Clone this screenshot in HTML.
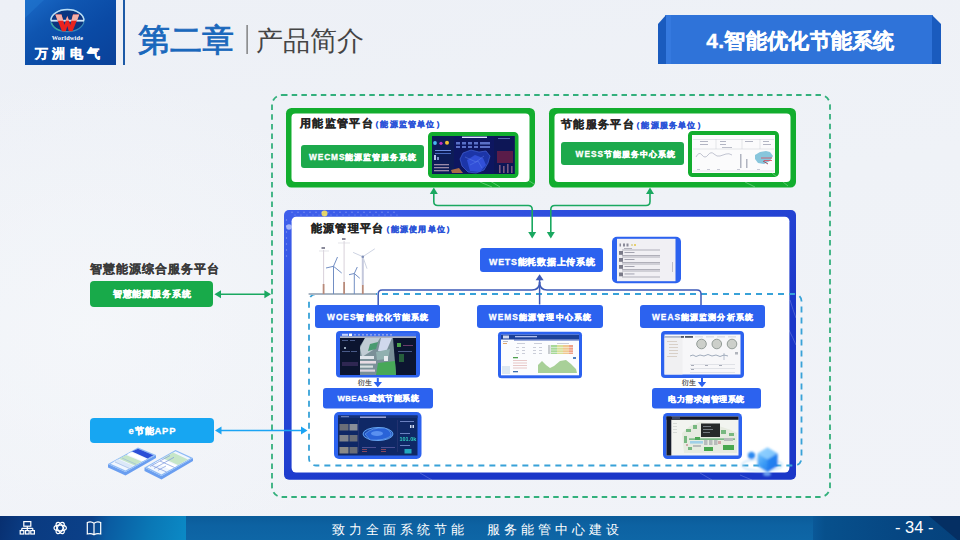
<!DOCTYPE html>
<html><head><meta charset="utf-8">
<style>
*{margin:0;padding:0;box-sizing:border-box}
html,body{width:960px;height:540px;overflow:hidden}
body{position:relative;background:radial-gradient(ellipse 300px 260px at 90px 330px,rgba(246,248,251,0.7),rgba(246,248,251,0)),linear-gradient(170deg,#edf0f6 0%,#eff2f7 45%,#f1f3f8 100%);font-family:"Liberation Sans",sans-serif}
.a{position:absolute;white-space:nowrap}
svg.full{position:absolute;left:0;top:0}
.ch{left:138px;top:19.8px;font-size:31.5px;line-height:40px;color:#1a68bc;font-weight:normal;-webkit-text-stroke:0.9px #1a68bc}
.sub{left:256px;top:23.3px;font-size:27px;line-height:36px;color:#454545}
.tabt{left:659px;top:16px;width:283px;height:49px;color:#fff;font-weight:bold;font-size:21px;text-align:center;line-height:49px;-webkit-text-stroke:0.4px #fff;letter-spacing:0.3px}
.ttl{font-weight:bold;font-size:11.2px;line-height:14px;color:#262626;-webkit-text-stroke:0.25px #262626;letter-spacing:1.35px}
.ttl span{color:#2d55d8;font-size:7.8px;-webkit-text-stroke:0.3px #2d55d8;margin-left:-3px;letter-spacing:1.2px}
.btn{color:#fff;font-weight:bold;font-size:8.3px;text-align:center;letter-spacing:0.75px;-webkit-text-stroke:0.3px #fff;padding-top:0.7px;text-indent:0.75px}
.foot{left:0;top:516px;width:960px;height:24px;background:linear-gradient(180deg,#0b5c9a 0%,#0d62a2 40%,#0e66a6 100%)}
.footl{left:0;top:516px;width:186px;height:24px;background:linear-gradient(105deg,#082f70 0%,#0a3a80 12%,#0b4088 48%,#0a5ca2 58%,#0a78b6 80%,#0b8ac6 100%)}
.footr{left:813px;top:516px;width:147px;height:24px;background:linear-gradient(90deg,#0a5898 0%,#07508c 8%,#064682 60%,#05427c 100%)}
.ftxt{left:332px;top:518px;height:24px;line-height:24px;color:#fff;font-size:13px;letter-spacing:4px}
.pg{left:895px;top:515px;height:24px;line-height:24px;color:#fff;font-size:16.5px}
.yan{font-size:7px;color:#3a3a3a;line-height:8px;-webkit-text-stroke:0.15px #3a3a3a}
</style></head><body>
<svg class="full" width="960" height="540" viewBox="0 0 960 540">
<defs>
 <linearGradient id="logog" x1="0" y1="0" x2="1" y2="1">
  <stop offset="0" stop-color="#1a6ac8"/><stop offset="0.3" stop-color="#0f55b0"/><stop offset="0.6" stop-color="#0a4aa5"/><stop offset="1" stop-color="#0a4199"/>
 </linearGradient>
 <linearGradient id="bluebd" gradientUnits="userSpaceOnUse" x1="284" y1="210" x2="400" y2="480">
  <stop offset="0" stop-color="#4060ec"/><stop offset="0.3" stop-color="#3051e0"/><stop offset="0.65" stop-color="#2444d4"/><stop offset="1" stop-color="#1a36c8"/>
 </linearGradient>
 <linearGradient id="cubeg" x1="0" y1="0" x2="1" y2="1">
  <stop offset="0" stop-color="#8ad0ff"/><stop offset="0.5" stop-color="#3a9af5"/><stop offset="1" stop-color="#1d6ae8"/>
 </linearGradient>
 <filter id="glow" x="-30%" y="-30%" width="160%" height="160%"><feGaussianBlur stdDeviation="0.9"/></filter>
 <filter id="soft" x="-5%" y="-5%" width="110%" height="110%"><feGaussianBlur stdDeviation="0.35"/></filter>
</defs>

<!-- ===== header ===== -->
<rect x="25" y="0" width="91" height="65" fill="url(#logog)"/>
<polygon points="25,0 44,0 25,18" fill="#2277d0" opacity="0.5"/>
<rect x="123" y="0" width="2" height="65" fill="#1d5aa6"/>
<rect x="246.5" y="25" width="1.2" height="29" fill="#666"/>
<!-- logo mark -->
<ellipse cx="67.4" cy="20.6" rx="16.6" ry="11" fill="#0b3580" stroke="#3a8ab8" stroke-width="1.2"/><path d="M50.8,20.6 A16.6,11 0 0 1 84,20.6" fill="none" stroke="#b8dcf6" stroke-width="1.5"/><path d="M51.5,23 A16.6,11 0 0 0 60,30.5" fill="none" stroke="#3aa8a0" stroke-width="1.3"/>
<rect x="51" y="19.8" width="33" height="1.8" fill="#cfe6f8"/>
<path d="M55.3,14.6 H61.5 L64.5,25 L67.3,16 L70.3,25 L73,14.6 H79.3 L72.5,31.3 H68.8 L67.3,26 L65.8,31.3 H62 Z" fill="#e8231e"/>
<path d="M55.3,14.6 H61.5 L63.3,20.8 H57.6 Z M65.5,20.8 L67.3,16 L69.1,20.8 Z M71.3,20.8 L73,14.6 H79.3 L77,20.8 Z" fill="#f4b0a8"/>
<text x="67.5" y="39.8" font-family="Liberation Serif" font-weight="bold" font-size="6.3" fill="#fff" text-anchor="middle" letter-spacing="0.2">Worldwide</text>
<!-- tab -->
<rect x="665" y="15" width="268" height="49" rx="1" fill="#2f73d9"/>
<polygon points="658,24 666,15 666,64 658,64" fill="#1a5bbe"/>
<polygon points="932,15 941,24 941,64 932,64" fill="#1a5bbe"/>
<rect x="666" y="15" width="5" height="49" fill="#3a7de2" opacity="0.6"/>

<!-- ===== main diagram ===== -->
<rect x="272" y="95" width="558" height="402" rx="10" fill="none" stroke="#33b07c" stroke-width="1.8" stroke-dasharray="5.5 4.2"/>

<!-- green platform boxes -->
<rect x="286" y="108" width="249" height="79.5" rx="5.5" fill="#12ad2e"/><rect x="291.5" y="113.5" width="238" height="68.5" rx="4" fill="#fff"/>
<rect x="549" y="108" width="247" height="79.5" rx="5.5" fill="#12ad2e"/><rect x="554.5" y="113.5" width="236" height="68.5" rx="4" fill="#fff"/>
<rect x="301" y="145" width="123" height="23" rx="3" fill="#1ca94c"/>
<rect x="561" y="142" width="123" height="23" rx="3" fill="#1ca94c"/>

<!-- WECMS thumb -->
<rect x="430" y="134" width="86.5" height="42" rx="2.5" fill="#0b1450" stroke="#12ad2e" stroke-width="4"/>
<g filter="url(#soft)">
<rect x="432" y="136" width="82.5" height="38" fill="#0c1860"/>
<rect x="432" y="136" width="22" height="38" fill="#0d1a58"/>
<rect x="494" y="136" width="20.5" height="38" fill="#0e1656"/>
<rect x="462" y="136.6" width="25" height="1.4" fill="#dfe4ff"/>
<circle cx="435" cy="143" r="1.9" fill="#4ab8f0"/><circle cx="441" cy="143.3" r="1.6" fill="#c030c0"/><circle cx="447" cy="142.8" r="2" fill="#f0c030"/>
<rect x="435" y="150" width="16" height="1" fill="#6a8ae0"/>
<rect x="435" y="153" width="16" height="1" fill="#4a6ac0"/>
<rect x="434" y="155" width="2" height="5" fill="#b8c0e8"/><rect x="437" y="157" width="2" height="3" fill="#8090d0"/>
<g fill="#9a8aa8"><rect x="434" y="164" width="15" height="1.3"/><rect x="434" y="167" width="15" height="1.3"/><rect x="434" y="170" width="15" height="1.3"/></g>
<g fill="#5a70c8"><rect x="456" y="142" width="4" height="2.5"/><rect x="462" y="142" width="4" height="2.5"/><rect x="468" y="142" width="4" height="2.5"/><rect x="474" y="142" width="4" height="2.5"/><rect x="480" y="142" width="10" height="2.5"/>
<rect x="456" y="146" width="4" height="2"/><rect x="462" y="146" width="4" height="2"/><rect x="468" y="146" width="4" height="2"/><rect x="474" y="146" width="4" height="2"/><rect x="480" y="146" width="10" height="2"/></g>
<path d="M463,153 L471,150 L479,152 L486,151 L490,156 L488,163 L484,170 L476,173 L468,172 L462,166 L460,159 Z" fill="#1e36a8" stroke="#4a6ae0" stroke-width="0.6"/>
<path d="M467,160 L475,155 L483,158 L486,165 L480,172 L470,171 Z" fill="#3050d8"/><path d="M465,157 L476,162 L484,156 M470,165 L478,161 L482,168" stroke="#6a88f0" stroke-width="0.4" fill="none"/>
<path d="M451,170 L459,168 L463,173 L452,173 Z" fill="#d08040" opacity="0.8"/>
<rect x="497" y="151" width="16" height="12" fill="#5a1a48"/>
<g fill="#7a5a80"><rect x="499" y="165" width="1.6" height="8"/><rect x="503" y="166" width="1.6" height="7"/><rect x="507" y="164" width="1.6" height="9"/><rect x="511" y="166" width="1.6" height="7"/></g>
<rect x="498" y="138" width="12" height="1" fill="#5a6ab0"/>
</g>
<!-- WESS thumb -->
<rect x="690" y="133" width="87" height="42" rx="2.5" fill="#fdfdfd" stroke="#12ad2e" stroke-width="4"/>
<g filter="url(#soft)">
<rect x="692" y="135" width="83" height="38" fill="#fbfbfc"/>
<g stroke="#c8ccd6" stroke-width="0.5"><path d="M693,139.5 H774 M693,149 H774 M693,171 H774 M742,139 V149 M716,139 V149 M760,139 V149"/></g>
<g fill="#a0a4b4"><rect x="700" y="141" width="8" height="0.8"/><rect x="700" y="144" width="8" height="0.8"/><rect x="720" y="141" width="6" height="0.8"/><rect x="720" y="144" width="6" height="0.8"/><rect x="745" y="141" width="8" height="0.8"/><rect x="763" y="141" width="6" height="0.8"/><rect x="763" y="144" width="8" height="0.8"/><rect x="722" y="147" width="10" height="0.7"/></g>
<path d="M696,157 Q699,151 702,155 T708,155 T714,154 T720,156 T726,154 T732,155" fill="none" stroke="#9aa0b4" stroke-width="0.6"/>
<g fill="#b0b4c0"><rect x="740" y="154" width="1.5" height="14"/><rect x="746" y="159" width="1.5" height="9"/></g>
<path d="M755,155 L760,152 L766,151 L770,152 L773,156 L770,161 L764,164 L758,163 L755,159 Z" fill="#88c6dc"/>
<path d="M761,158 L772,158 M764,160.5 H772" stroke="#e04858" stroke-width="0.8"/>
<path d="M763,161 L768,164" stroke="#a05060" stroke-width="1"/>
<g fill="#b8bcc8"><rect x="697" y="169" width="3" height="0.8"/><rect x="707" y="169" width="3" height="0.8"/><rect x="717" y="169" width="3" height="0.8"/><rect x="737" y="169" width="3" height="0.8"/><rect x="757" y="169" width="3" height="0.8"/></g>
</g>
<!-- blue platform box -->
<rect x="284" y="210" width="512" height="269.8" rx="5" fill="url(#bluebd)"/><rect x="291.6" y="216.7" width="497.8" height="255.8" rx="4.5" fill="#fff"/>
<circle cx="289" cy="227" r="2.8" fill="#cfd8ff" opacity="0.7"/>
<circle cx="324.5" cy="213.5" r="3" fill="#f5e05a" opacity="0.9"/>
<g fill="#ffffff" opacity="0.35">
<circle cx="292" cy="212.3" r="0.7"/>
<circle cx="295" cy="215" r="0.6"/>
<circle cx="298" cy="212.3" r="0.7"/>
<circle cx="301" cy="215" r="0.6"/>
<circle cx="304" cy="212.3" r="0.7"/>
<circle cx="307" cy="215" r="0.6"/>
<circle cx="310" cy="212.3" r="0.7"/>
<circle cx="313" cy="215" r="0.6"/>
<circle cx="316" cy="212.3" r="0.7"/>
<circle cx="319" cy="215" r="0.6"/>
<circle cx="322" cy="212.3" r="0.7"/>
<circle cx="325" cy="215" r="0.6"/>
<circle cx="328" cy="212.3" r="0.7"/>
<circle cx="331" cy="215" r="0.6"/>
<circle cx="334" cy="212.3" r="0.7"/>
<circle cx="337" cy="215" r="0.6"/>
<circle cx="340" cy="212.3" r="0.7"/>
<circle cx="343" cy="215" r="0.6"/>
<circle cx="346" cy="212.3" r="0.7"/>
<circle cx="349" cy="215" r="0.6"/>
<circle cx="352" cy="212.3" r="0.7"/>
<circle cx="355" cy="215" r="0.6"/>
<circle cx="358" cy="212.3" r="0.7"/>
<circle cx="361" cy="215" r="0.6"/>
<circle cx="364" cy="212.3" r="0.7"/>
<circle cx="367" cy="215" r="0.6"/>
<circle cx="370" cy="212.3" r="0.7"/>
<circle cx="373" cy="215" r="0.6"/>
<circle cx="376" cy="212.3" r="0.7"/>
<circle cx="379" cy="215" r="0.6"/>
<circle cx="382" cy="212.3" r="0.7"/>
<circle cx="385" cy="215" r="0.6"/>
<circle cx="388" cy="212.3" r="0.7"/>
<circle cx="391" cy="215" r="0.6"/>
<circle cx="394" cy="212.3" r="0.7"/>
<circle cx="397" cy="215" r="0.6"/>
<circle cx="286.5" cy="220" r="0.7"/>
<circle cx="286.5" cy="226" r="0.7"/>
<circle cx="286.5" cy="232" r="0.7"/>
<circle cx="286.5" cy="238" r="0.7"/>
<circle cx="286.5" cy="244" r="0.7"/>
<circle cx="286.5" cy="250" r="0.7"/>
<circle cx="286.5" cy="256" r="0.7"/>
</g>
<g stroke="#ffffff" stroke-width="0.8" opacity="0.25" fill="none">
<path d="M790,300 Q793,310 796,318"/><path d="M789,330 Q793,338 796,345"/><path d="M740,475 L752,480"/><path d="M700,473 L712,480"/><path d="M420,473 L432,480"/>
</g>
<g stroke="#ffffff" stroke-width="0.9" opacity="0.35" fill="none">
<path d="M480,182 L492,187"/><path d="M490,181 L500,187"/><path d="M520,175 L534,184"/><path d="M772,173 L788,186"/><path d="M745,182 L755,187"/>
</g>
<!-- cyan dashed -->
<rect x="309" y="294" width="492.5" height="171.5" rx="7" fill="none" stroke="#38a2d8" stroke-width="1.8" stroke-dasharray="6 5"/>

<!-- green connectors -->
<g fill="none" stroke="#1aa860" stroke-width="1.6">
<path d="M433.8,193 V201.5 Q433.8,205.5 437.8,205.5 H528.2 Q532.2,205.5 532.2,209.5 V233"/>
<path d="M650,193 V201.5 Q650,205.5 646,205.5 H554.8 Q550.8,205.5 550.8,209.5 V233"/>
<path d="M220,294.2 H265"/>
</g>
<g fill="#1aa860">
<polygon points="433.8,187.5 429.8,194 437.8,194"/>
<polygon points="650,187.5 646,194 654,194"/>
<polygon points="532.2,238.5 528.2,232 536.2,232"/>
<polygon points="550.8,238.5 546.8,232 554.8,232"/>
<polygon points="214.4,294.2 221,290.2 221,298.2"/>
<polygon points="271,294.2 264.4,290.2 264.4,298.2"/>
</g>
<!-- cyan app arrow -->
<path d="M221,430.5 H301" stroke="#1ba4f4" stroke-width="1.6"/>
<polygon points="215,430.5 221.5,426.5 221.5,434.5" fill="#1ba4f4"/>
<polygon points="307.5,430.5 301,426.5 301,434.5" fill="#1ba4f4"/>

<!-- blue connectors -->
<g fill="none" stroke="#3d5ab8" stroke-width="1.5">
<path d="M378.2,305 V294 Q378.2,290 382.2,290 H532 Q539.6,290 539.6,282"/>
<path d="M701,305 V294 Q701,290 697,290 H547 Q539.6,290 539.6,282"/>
<path d="M539.6,304.5 V279"/>
</g>
<polygon points="539.6,274.3 535.6,280.3 543.6,280.3" fill="#3d5ab8"/>

<!-- blue buttons -->
<g fill="#2c62ef">
<rect x="480" y="248" width="123" height="24" rx="3"/>
<rect x="315" y="305" width="125" height="23" rx="3"/>
<rect x="477" y="305" width="126" height="23" rx="3"/>
<rect x="640" y="305" width="125" height="23" rx="3"/>
<rect x="323" y="388" width="110" height="20.5" rx="3"/>
<rect x="652" y="388" width="109" height="20.5" rx="3"/>
</g>
<!-- derive arrows -->
<g stroke="#2c62ef" stroke-width="2"><path d="M377.8,378 V383"/><path d="M702,378 V383"/></g>
<g fill="#2c62ef"><polygon points="373.6,382 382,382 377.8,387.3"/><polygon points="697.8,382 706.2,382 702,387.3"/></g>

<!-- WETS thumb -->
<rect x="612" y="236.7" width="69" height="46.5" rx="5" fill="#2c62ef"/>
<rect x="617" y="238.8" width="58.5" height="42.4" fill="#f1f0f4"/>
<g filter="url(#soft)">
<g fill="#8a8a98"><rect x="619.5" y="243.5" width="1.5" height="3"/><rect x="623" y="243.5" width="2" height="3"/><rect x="626.5" y="243.5" width="2" height="3"/></g>
<rect x="631" y="244" width="2" height="2" fill="#e0d8a8"/><rect x="634" y="244" width="2" height="2" fill="#e8d070"/>
<g fill="#a0a0ac"><rect x="624" y="248" width="8" height="0.8"/></g>
<g stroke="#a8a8b2" stroke-width="0.9"><path d="M622,250 H660 M622,255.5 H660 M622,257 H660 M622,262.5 H660 M622,264 H660 M622,269.5 H660 M622,271 H660 M622,277 H660"/></g>
<g fill="#7a7a88"><rect x="619" y="251" width="4" height="3.8"/><rect x="619" y="258" width="4" height="3.8"/><rect x="619" y="265" width="4" height="3.8"/><rect x="619" y="272.5" width="4" height="3.8"/></g>
<g fill="#9a9aa8"><rect x="624.5" y="252" width="10" height="0.9"/><rect x="624.5" y="259" width="10" height="0.9"/><rect x="624.5" y="266" width="10" height="0.9"/><rect x="624.5" y="273.5" width="10" height="0.9"/></g>
<rect x="672" y="262" width="1" height="10" fill="#c0c0c8"/>
</g>
<!-- WOES thumb -->
<rect x="336" y="331" width="84" height="46.5" rx="4" fill="#2c62ef"/>
<rect x="340" y="333" width="76" height="42" fill="#0c1530"/>
<g filter="url(#soft)">
<rect x="340" y="333" width="76" height="3.5" fill="#3a6cf0"/>
<rect x="342" y="333.8" width="6" height="2" fill="#c8d4ff"/><rect x="349" y="333.6" width="3" height="2.4" fill="#ffffff"/>
<g fill="#8aa0f0"><rect x="354" y="334" width="2" height="1.6"/><rect x="358" y="334" width="2" height="1.6"/><rect x="362" y="334" width="2" height="1.6"/><rect x="366" y="334" width="2" height="1.6"/><rect x="370" y="334" width="2" height="1.6"/><rect x="374" y="334" width="2" height="1.6"/><rect x="378" y="334" width="2" height="1.6"/><rect x="382" y="334" width="2" height="1.6"/><rect x="386" y="334" width="2" height="1.6"/><rect x="390" y="334" width="2" height="1.6"/></g>
<rect x="340" y="336.5" width="76" height="1.2" fill="#f4f6ff"/>
<polygon points="360,346 365,338 393,338 396,375 360,375" fill="#7a9098"/>
<polygon points="365,338 380,338 373,350 362,357 360,348" fill="#c0ccd4"/>
<polygon points="381,338 392,338 386,352 378,351" fill="#d0d8ec"/>
<polygon points="370,344 378,342 376,349 368,351" fill="#4a9a70"/>
<rect x="360" y="356" width="14" height="3" fill="#e0e6ec"/><rect x="360" y="361" width="16" height="2.6" fill="#e8dce4"/><rect x="360" y="365.5" width="13" height="2.2" fill="#d8e0e0"/><rect x="360" y="369.5" width="15" height="2.2" fill="#dcd4e0"/>
<polygon points="378,363 395,361 396,375 376,375" fill="#46a858"/>
<polygon points="376,352 390,349 388,359 377,360" fill="#90b0b0"/>
<rect x="384" y="356" width="4" height="5" fill="#e8ecf0"/>
<rect x="397" y="343" width="4" height="4" fill="#4aa04a"/>
<rect x="399" y="354" width="5" height="8" fill="#2a7040" opacity="0.8"/>
<g fill="#4a5a88"><rect x="342" y="340" width="6" height="1"/><rect x="350" y="340" width="5" height="1"/><rect x="342" y="351" width="8" height="1"/><rect x="351" y="351" width="6" height="1"/><rect x="398" y="351" width="14" height="1"/><rect x="403" y="345" width="10" height="1" fill="#6a3a6a"/></g>
<rect x="342" y="362" width="16" height="4" fill="#3a2a5a" opacity="0.8"/>
<circle cx="345" cy="348" r="1" fill="#c8d8e8"/>
</g>
<!-- WEMS thumb -->
<rect x="498" y="331.7" width="84" height="46.6" rx="3.5" fill="#2c62ef"/>
<rect x="501" y="334.7" width="78" height="40.6" fill="#fbfcfe"/>
<g filter="url(#soft)">
<rect x="501" y="334.7" width="78" height="4.8" fill="#1c3f98"/>
<rect x="503" y="335.5" width="6" height="3" fill="#d0d8f0"/>
<rect x="515" y="336" width="22" height="1.3" fill="#b0c0f0"/>
<rect x="514" y="339.5" width="65" height="1" fill="#4060b8"/>
<g fill="#b0b4c0"><rect x="503" y="341" width="5" height="0.9"/><rect x="503" y="343" width="4" height="0.9" fill="#e0a060"/></g>
<g fill="#c0c4d0"><rect x="517" y="343" width="8" height="0.8"/><rect x="534" y="343" width="8" height="0.8"/><rect x="557" y="343" width="12" height="0.8"/>
<rect x="516" y="347" width="3" height="0.8"/><rect x="522" y="347" width="3" height="0.8"/><rect x="533" y="347" width="3" height="0.8"/><rect x="539" y="347" width="3" height="0.8"/>
<rect x="516" y="350" width="3" height="0.8"/><rect x="522" y="350" width="3" height="0.8"/><rect x="533" y="350" width="3" height="0.8"/><rect x="539" y="350" width="3" height="0.8"/>
<rect x="516" y="353" width="3" height="0.8"/><rect x="522" y="353" width="3" height="0.8"/><rect x="533" y="353" width="3" height="0.8"/><rect x="539" y="353" width="3" height="0.8"/></g>
<rect x="548" y="345" width="2.5" height="9" fill="#c8ccd0"/>
<rect x="551" y="345" width="6" height="9" fill="#a8d898"/><rect x="557" y="345" width="6" height="9" fill="#d8e098"/><rect x="563" y="345" width="6" height="9" fill="#f0c890"/><rect x="569" y="345" width="4" height="9" fill="#f0a088"/>
<g stroke="#fbfcfe" stroke-width="0.5"><path d="M551,347.5 H573 M551,350 H573 M551,352.5 H573"/></g>
<rect x="513" y="357" width="5" height="1.3" fill="#50a050"/>
<g fill="#e8c8c8"><rect x="513" y="360" width="14" height="1"/><rect x="513" y="362.5" width="14" height="1"/><rect x="513" y="365" width="14" height="1"/><rect x="513" y="367.5" width="14" height="1"/></g>
<rect x="513" y="371" width="5" height="1.3" fill="#4070b0"/>
<path d="M538,373 L538,365 L542,361 L546,365 L550,368 L554,366 L560,361 L566,360 L571,364 L576,369 L577,373 Z" fill="#a8d098"/>
<rect x="573" y="357" width="3" height="2" fill="#5080c0"/>
<rect x="502" y="366" width="8" height="8" fill="#c8d8e8" opacity="0.6"/>
</g>
<!-- WEAS thumb -->
<rect x="661" y="331" width="83" height="47" rx="4" fill="#2c62ef"/>
<rect x="664.5" y="334.5" width="76" height="40" fill="#f7f7f9"/>
<g filter="url(#soft)">
<rect x="664.5" y="336" width="18" height="1.8" fill="#b0b8c8"/>
<rect x="681" y="336" width="3" height="1.8" fill="#505868"/>
<rect x="685" y="336" width="8" height="1.8" fill="#505868"/>
<g fill="#c8ccd4"><rect x="695" y="336.5" width="8" height="0.8"/><rect x="706" y="336.5" width="8" height="0.8"/><rect x="717" y="336.5" width="8" height="0.8"/><rect x="728" y="336.5" width="8" height="0.8"/></g>
<rect x="664.5" y="338" width="18" height="36.5" fill="#f0f0f2"/>
<g fill="#d8d0c8"><rect x="667" y="341" width="10" height="1"/><rect x="669" y="344" width="9" height="1"/><rect x="669" y="347" width="9" height="1"/><rect x="669" y="350" width="9" height="1"/><rect x="669" y="353" width="9" height="1"/><rect x="667" y="356" width="10" height="1"/></g>
<g fill="#cccfca" stroke="#8a9490" stroke-width="0.9"><circle cx="701.5" cy="344" r="4.8"/><circle cx="716.8" cy="344" r="4.8"/><circle cx="732" cy="344" r="4.8"/></g>
<path d="M690,356 L693,355 L696,356.5 L700,355 L704,356 L708,354.5 L712,356 L716,355 L720,356.5 L724,355 L728,356" fill="none" stroke="#7a8aa0" stroke-width="0.7"/>
<path d="M724,353 V360" stroke="#7a8aa0" stroke-width="0.5"/>
<rect x="735" y="352" width="3" height="2.5" fill="#b0b4bc"/>
<g fill="#d0d4dc"><rect x="690" y="364" width="45" height="0.6"/><rect x="690" y="368" width="45" height="0.6"/><rect x="690" y="372" width="45" height="0.6"/></g>
<g fill="#a8acb8"><rect x="691" y="365" width="3" height="1"/><rect x="691" y="369" width="3" height="1"/><rect x="705" y="365" width="3" height="1"/><rect x="719" y="365" width="3" height="1"/></g>
</g>
<!-- WBEAS thumb -->
<rect x="334" y="412" width="87.5" height="47" rx="5" fill="#2c62ef"/>
<rect x="338" y="415.5" width="79.5" height="40" fill="#0f2866"/>
<g filter="url(#soft)">
<rect x="338" y="415.5" width="79.5" height="2.5" fill="#12307a"/>
<rect x="341" y="416.2" width="8" height="1" fill="#8090c0"/>
<rect x="360" y="416.5" width="26" height="1.4" fill="#a8b0e0"/>
<g fill="#6a6e78"><rect x="339.5" y="424" width="9" height="6.5"/><rect x="349.5" y="424" width="8" height="6.5" fill="#8a8e98"/><rect x="339.5" y="435" width="9" height="6.5" fill="#80848c"/><rect x="349.5" y="435" width="8" height="6.5"/><rect x="339.5" y="447" width="9" height="6.5" fill="#8a8a88"/><rect x="349.5" y="447" width="8" height="6.5"/></g>
<ellipse cx="378" cy="434" rx="15" ry="6.5" fill="#1a4ab0" stroke="#6ab0ff" stroke-width="0.9"/>
<path d="M365,434 Q372,427 385,428 Q392,431 391,436 Q384,441 370,440 Z" fill="#2a64d8" stroke="#8ac0ff" stroke-width="0.5"/>
<ellipse cx="377" cy="433.5" rx="6" ry="2.5" fill="#5a90f0"/>
<g fill="#5a5aa0"><rect x="362" y="447" width="14" height="0.8"/><rect x="381" y="447" width="14" height="0.8"/></g>
<g fill="#a05060"><rect x="362" y="449" width="5" height="0.8"/><rect x="362" y="451" width="5" height="0.8"/><rect x="381" y="449" width="5" height="0.8"/><rect x="381" y="451" width="5" height="0.8"/></g>
<rect x="400" y="421" width="14" height="1" fill="#6a80c0"/>
<rect x="410" y="425" width="1.5" height="3" fill="#d0d8f0"/><rect x="412.5" y="425" width="1.5" height="3" fill="#d0d8f0"/>
<rect x="400" y="433" width="10" height="1" fill="#6a80c0"/>
<text x="399.5" y="441.2" font-family="Liberation Sans" font-weight="bold" font-size="5.5" fill="#30d0c0">101.0k</text>
<rect x="400" y="445" width="10" height="1" fill="#6a80c0"/>
<rect x="404.5" y="449" width="7" height="4.5" fill="#20a8c0"/>
<rect x="358" y="420" width="1" height="32" fill="#203070"/><rect x="397" y="420" width="1" height="32" fill="#203070"/>
</g>
<!-- 电力 thumb -->
<rect x="663" y="413" width="79" height="46" rx="4.5" fill="#2c62ef"/>
<rect x="666.5" y="416.5" width="72" height="39" fill="#f2f4f0"/>
<g filter="url(#soft)">
<rect x="666.5" y="416.5" width="4.8" height="39" fill="#181c2a"/>
<rect x="666.5" y="416.5" width="72" height="3.3" fill="#151928"/>
<rect x="672" y="417.5" width="8" height="1" fill="#6070a0"/>
<g fill="#d0d4d0"><rect x="673" y="423" width="4" height="0.8"/><rect x="673" y="426" width="4" height="0.8"/><rect x="673" y="429" width="4" height="0.8"/><rect x="673" y="432" width="4" height="0.8"/></g>
<polygon points="682,433 690,426 700,422 712,424 722,427 731,430 737,433 737,453 684,453" fill="#e6ebe0"/>
<g fill="#78b880"><rect x="686" y="429" width="5" height="3"/><rect x="693" y="425" width="4" height="4"/><rect x="684" y="436" width="3" height="7"/><rect x="721" y="430" width="5" height="4"/><rect x="729" y="433" width="5" height="3"/><rect x="688" y="447" width="4" height="3"/></g>
<g fill="#48a850"><rect x="704" y="447" width="9" height="4"/><rect x="723" y="445" width="11" height="5"/><rect x="695" y="437" width="5" height="3"/></g>
<rect x="689" y="438.5" width="46" height="1.2" fill="#50a860"/>
<rect x="690" y="441" width="13" height="2.6" fill="#a0d0e8"/>
<g fill="#b8bcbc"><rect x="704" y="440" width="3.5" height="5"/><rect x="709" y="440" width="3.5" height="5"/><rect x="714" y="440" width="3.5" height="5"/><rect x="724" y="438" width="9" height="3"/><rect x="693" y="445" width="8" height="2"/></g>
<g fill="#d0a8a8"><rect x="718" y="441" width="3" height="3"/><rect x="686" y="444" width="2" height="2"/></g>
<rect x="701" y="423.5" width="19" height="13.5" fill="#262a2c"/>
<g fill="#8a9098"><rect x="703" y="426" width="8" height="0.8"/><rect x="703" y="429" width="10" height="0.8"/><rect x="703" y="432" width="7" height="0.8"/></g>
</g>
<!-- wind turbines -->
<g>
<path d="M308.6,294 H376" stroke="#a8b4c2" stroke-width="2"/>
<g stroke="#d4ccd6" stroke-width="0.9"><path d="M323.6,250 V284"/><path d="M344.1,241 V283"/></g>
<g stroke="#b88a7a" stroke-width="1.8"><path d="M323.6,284 V294"/><path d="M344.1,282 V294"/><path d="M362.8,285 V294"/></g>
<g fill="#8a8a9a"><rect x="321.5" y="247" width="3.5" height="2"/><rect x="342" y="238" width="3.5" height="2"/></g>
<path d="M319,251 H329 M338,243 H350" stroke="#d8d8e0" stroke-width="0.7"/>
<g stroke="#6a88c0" stroke-width="0.95" fill="none">
<path d="M333.5,266.3 V294"/><path d="M333.5,266.3 L337.5,257 M333.5,266.3 L326,268 M333.5,266.3 L341.7,273"/>
<path d="M354.3,273.5 V294"/><path d="M354.3,273.5 L357.3,267 M354.3,273.5 L349,274.7 M354.3,273.5 L359.8,278.3"/>
</g>
<path d="M362.8,256.7 V285" stroke="#c4c8dc" stroke-width="2"/>
<g stroke="#cdd3e2" stroke-width="1"><path d="M362.8,256.7 L374.8,248.8 M362.8,256.7 L353.1,252.4 M362.8,256.7 L367,268.7"/></g>
<circle cx="362.8" cy="256.7" r="1.3" fill="#8090b8"/>
</g>

<!-- phones -->
<g>
<polygon points="108,464 125.5,472 156,455 156,458 125.5,475.5 108,467.5" fill="#6a9ef0"/>
<polygon points="108,464 138,447.5 156,455 125.5,472" fill="#8cbaf6"/>
<polygon points="110.5,463.8 138,448.8 153.5,455.2 125.5,470.5" fill="#f0f6fe"/>
<polygon points="132,451.5 138,448.8 153.5,455.2 147.5,458.5" fill="#2b4fd6"/>
<polygon points="127,454.3 131,452.2 146.6,459 142.6,461" fill="#ffffff"/>
<polygon points="119,458.8 126,455 141.6,461.6 134.6,465.4" fill="#c6e6c8"/>
<polygon points="113.5,461.8 118,459.3 133.6,466 129,468.5" fill="#dbe8f8"/>
<path d="M115,462 L129.5,468.5 M122,458 L136.5,464.5" stroke="#8aaae0" stroke-width="0.5"/>
<polygon points="144.5,467.5 161.5,476 193,458 193,461 161.5,479.5 144.5,471" fill="#6a9ef0"/>
<polygon points="144.5,467.5 175.5,450 193,458 161.5,476" fill="#8cbaf6"/>
<polygon points="147,467.3 175.5,451.3 190.5,458.3 161.5,474.5" fill="#f0f6fe"/>
<polygon points="163,458.3 173,452.6 188,459.4 178,465" fill="#c6e6c8"/>
<polygon points="155,462.8 162,458.9 177,465.7 170,469.6" fill="#ffffff"/>
<path d="M150,466.5 L170,455.5 M154,468.5 L174,457.3 M158,470.3 L166,466 M152,465.5 L166.5,472 M160,461 L174.5,467.5" stroke="#7b96dc" stroke-width="0.7"/>
</g>
<!-- cube -->
<g filter="url(#glow)">
<ellipse cx="762" cy="465" rx="20" ry="6" fill="none" stroke="#bfe0fa" stroke-width="1.4" opacity="0.9"/>
<polygon points="767.5,447.5 777.5,453.5 777.5,466 767.5,472 757.5,466 757.5,453.5" fill="url(#cubeg)"/>
<polygon points="767.5,447.5 777.5,453.5 767.5,459.5 757.5,453.5" fill="#9ad6ff" opacity="0.75"/>
<polygon points="767.5,459.5 777.5,453.5 777.5,466 767.5,472" fill="#1a78ee" opacity="0.6"/>
<polygon points="751.5,451.5 755,453.5 755,457.5 751.5,459.5 748,457.5 748,453.5" fill="#2a88f0"/>
<ellipse cx="767" cy="474" rx="4" ry="2" fill="#8acaff" opacity="0.7"/>
</g>
<!-- footer icons -->
<polygon points="929,516 960,516 960,540 957.5,540" fill="#052f63"/>
<g fill="none" stroke="#fff" stroke-width="1.2">
<rect x="23.8" y="521.6" width="7" height="4.6"/><path d="M27.3,526.2 V528.3 M21.8,528.3 H32.8 M21.8,528.3 V530.5 M27.3,528.3 V530.5 M32.8,528.3 V530.5"/>
<rect x="20.2" y="530.6" width="3.6" height="3.4"/><rect x="25.5" y="530.6" width="3.6" height="3.4"/><rect x="30.8" y="530.6" width="3.6" height="3.4"/>
<ellipse cx="60.2" cy="528" rx="6.2" ry="2.8"/><ellipse cx="60.2" cy="528" rx="6.2" ry="2.8" transform="rotate(60 60.2 528)"/><ellipse cx="60.2" cy="528" rx="6.2" ry="2.8" transform="rotate(-60 60.2 528)"/>
<path d="M87.3,522.5 Q91,521 94,523.3 Q97,521 100.7,522.5 V534 Q97,532.8 94,534.8 Q91,532.8 87.3,534 Z M94,523.3 V534.8"/>
</g>
</svg>

<!-- header text -->
<div class="a" style="left:35px;top:45px;font-size:13px;line-height:16px;font-weight:bold;color:#fff;letter-spacing:4.3px;top:46px;-webkit-text-stroke:0.35px #fff">万洲电气</div>
<div class="a ch">第二章</div>
<div class="a sub">产品简介</div>
<div class="a tabt">4.智能优化节能系统</div>

<!-- titles -->
<div class="a ttl" style="left:300px;top:115.8px">用能监管平台<span>（能源监管单位）</span></div>
<div class="a ttl" style="left:561px;top:116.6px">节能服务平台<span>（能源服务单位）</span></div>
<div class="a ttl" style="left:310.5px;top:221.4px">能源管理平台<span>（能源使用单位）</span></div>

<!-- button text -->
<div class="a btn" style="left:301px;top:145.8px;width:123px;line-height:23px;letter-spacing:0.92px">WECMS能源监管服务系统</div>
<div class="a btn" style="left:564px;top:142.5px;width:123px;line-height:23px;letter-spacing:1.02px">WESS节能服务中心系统</div>
<div class="a btn" style="left:480.5px;top:249.3px;width:123px;line-height:24px;font-size:8.85px">WETS能耗数据上传系统</div>
<div class="a btn" style="left:315px;top:305px;width:125px;line-height:23px;letter-spacing:1.03px">WOES智能优化节能系统</div>
<div class="a btn" style="left:477px;top:305px;width:126px;line-height:23px;letter-spacing:1.12px">WEMS能源管理中心系统</div>
<div class="a btn" style="left:640px;top:305px;width:125px;line-height:23px;letter-spacing:1.08px">WEAS能源监测分析系统</div>
<div class="a btn" style="left:323px;top:388px;width:110px;line-height:20.5px;font-size:7.75px;letter-spacing:0.45px">WBEAS建筑节能系统</div>
<div class="a btn" style="left:652px;top:388px;width:109px;line-height:20.5px;font-size:8.4px;letter-spacing:0.5px;text-indent:0px">电力需求侧管理系统</div>
<div class="a yan" style="left:357.5px;top:379px">衍生</div>
<div class="a yan" style="left:681.5px;top:379px">衍生</div>

<!-- left side -->
<div class="a ttl" style="left:90px;top:262.2px;font-size:11.6px;letter-spacing:1.05px;color:#3a3a3a;-webkit-text-stroke:0.2px #3a3a3a">智慧能源综合服务平台</div>
<div class="a" style="left:90px;top:281px;width:123px;height:26px;line-height:26px;background:#18aa4a;color:#fff;font-weight:bold;font-size:8.6px;letter-spacing:0.85px;text-indent:1.2px;text-align:center;border-radius:4px;-webkit-text-stroke:0.35px #fff">智慧能源服务系统</div>
<div class="a" style="left:90px;top:418px;width:124px;height:25px;line-height:25px;background:#17a6f2;color:#fff;font-weight:bold;font-size:9.4px;letter-spacing:0.9px;text-indent:0.9px;text-align:center;border-radius:4px;-webkit-text-stroke:0.3px #fff">e节能APP</div>

<!-- footer -->
<div class="a foot" style="z-index:-1"></div>
<div class="a footl" style="z-index:-1"></div>
<div class="a footr" style="z-index:-1"></div>
<div class="a ftxt">致力全面系统节能<span style="display:inline-block;width:19px"></span>服务能管中心建设</div>
<div class="a pg">- 34 -</div>
</body></html>
